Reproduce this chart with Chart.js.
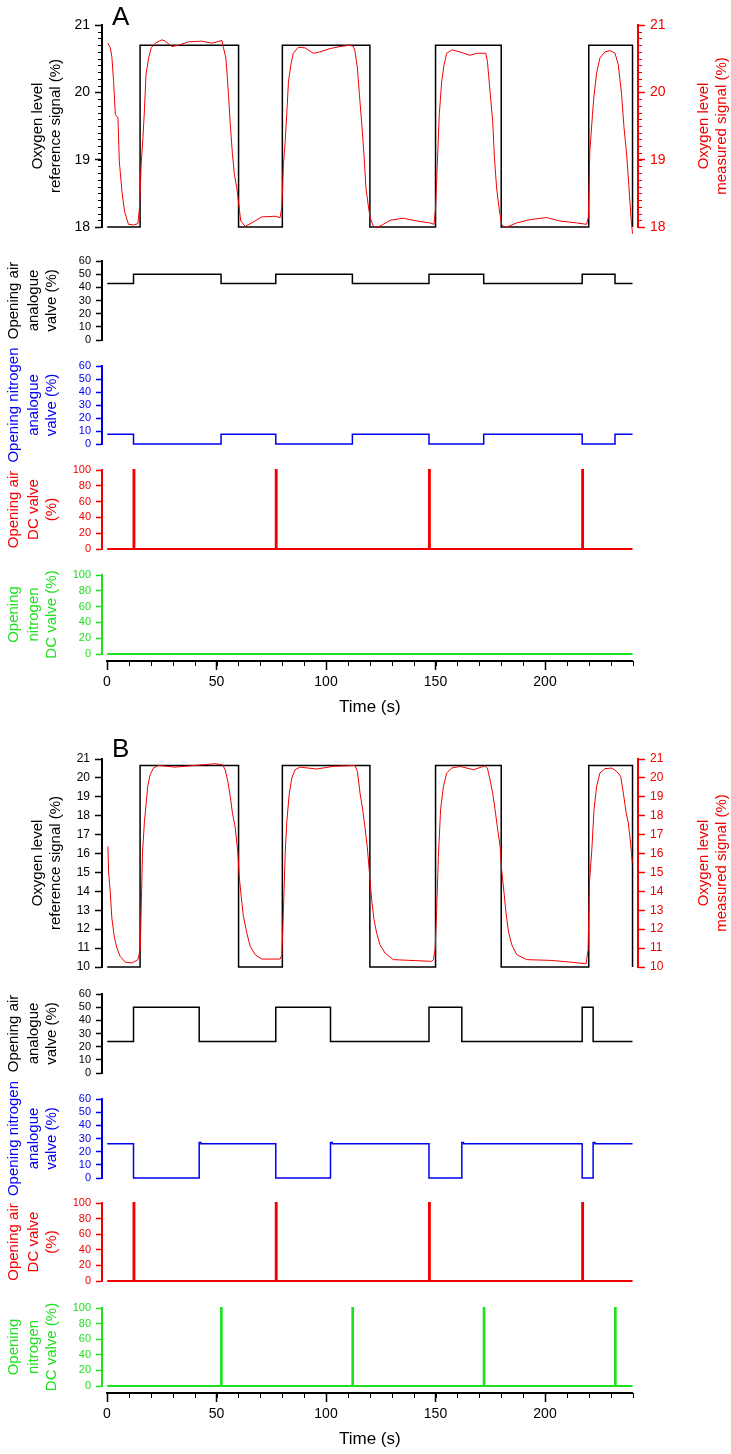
<!DOCTYPE html>
<html>
<head>
<meta charset="utf-8">
<script src="https://cdn.jsdelivr.net/npm/chart.js@4.4.1/dist/chart.umd.min.js"></script>
<style>
  html, body { margin: 0; padding: 0; background: #fff; }
  #page { position: relative; width: 731px; height: 1454px; overflow: hidden; }
  #page canvas { position: absolute; left: 0; }
</style>
</head>
<body>
<div id="page"></div>
<script>
// ---- values, [time (s), value] ----

// panel A
const refA = [[0, 18], [15, 20.7], [60, 18], [80, 20.7], [120, 18], [150, 20.7], [180, 18], [220, 20.7], [240, 18]];
const measuredA = [
  [0.3, 20.73], [1.4, 20.66], [2.1, 20.53], [2.9, 20.16], [3.7, 19.67], [4.9, 19.62], [5.5, 18.98], [6.7, 18.53],
  [7.9, 18.23], [9.7, 18.04], [12, 18.03], [14, 18.05], [14.8, 18.31], [15.5, 18.93], [16.3, 19.32], [17, 19.74],
  [17.7, 20.26], [18.9, 20.51], [20.1, 20.66], [21.9, 20.73], [24.9, 20.78], [26.5, 20.76], [29.5, 20.68], [32.6, 20.7],
  [37.1, 20.75], [43.2, 20.76], [47.8, 20.73], [52.4, 20.77], [53.1, 20.66], [54.2, 20.51], [55.4, 19.97], [56.2, 19.53],
  [57.2, 19.08], [58.1, 18.78], [59.2, 18.58], [60.3, 18.28], [61, 18.09], [63, 18.01], [66, 18.06], [70.6, 18.15],
  [76.7, 18.16], [79, 18.14], [79.8, 18.31], [80.5, 18.93], [81.3, 19.27], [82, 19.67], [82.8, 20.16], [83.9, 20.41],
  [85, 20.58], [87.3, 20.67], [90.4, 20.66], [94.2, 20.58], [97.2, 20.6], [101.8, 20.65], [106.4, 20.68], [110.9, 20.7],
  [112.5, 20.68], [113.2, 20.61], [114.3, 20.36], [115.2, 19.97], [116.3, 19.53], [117.4, 19.03], [118.2, 18.58], [119.3, 18.31],
  [120.1, 18.14], [121.6, 18.01], [123.1, 17.99], [126.1, 18.04], [129.2, 18.1], [135.3, 18.13], [141.4, 18.09], [147.5, 18.06],
  [149.3, 18.04], [150, 18.28], [150.8, 18.93], [151.7, 19.67], [152.8, 20.16], [153.9, 20.41], [155.1, 20.58], [157.4, 20.63],
  [161.2, 20.6], [165.7, 20.55], [168.8, 20.58], [173, 20.58], [173.7, 20.46], [174.9, 20.01], [176.1, 19.57], [176.9, 19.03],
  [177.9, 18.58], [179.1, 18.26], [180.2, 18.04], [181.7, 17.99], [187.1, 18.06], [193.2, 18.11], [200.7, 18.14], [206.8, 18.09],
  [214.5, 18.06], [219, 18.04], [219.8, 18.14], [220.5, 19.13], [221.7, 19.67], [222.3, 19.92], [223.6, 20.29], [225.1, 20.51],
  [227.4, 20.6], [229.7, 20.62], [232, 20.58], [233.5, 20.41], [235, 19.97], [236.1, 19.48], [237.3, 19.08], [238.4, 18.58],
  [239.3, 18.14], [240, 17.9]
];
const airA = [[0, 43], [12, 50], [52, 43], [77, 50], [112, 43], [147, 50], [172, 43], [217, 50], [232, 43], [240, 43]];
const nitrogenA = [[0, 7.5], [12, 0], [52, 7.5], [77, 0], [112, 7.5], [147, 0], [172, 7.5], [217, 0], [232, 7.5], [240, 7.5]];
const airDcA = [[0, 0], [12, 100], [12.4, 0], [77, 100], [77.4, 0], [147, 100], [147.4, 0], [217, 100], [217.4, 0], [240, 0]];
const nitrogenDcA = [[0, 0], [240, 0]];

// panel B
const refB = [[0, 10], [15, 20.65], [60, 10], [80, 20.65], [120, 10], [150, 20.65], [180, 10], [220, 20.65], [240, 10]];
const measuredB = [
  [0.3, 16.38], [0.6, 15.05], [1.4, 13.91], [2.1, 12.59], [3.2, 11.61], [4.4, 11.0], [5.9, 10.56], [8.2, 10.26],
  [11.3, 10.21], [14, 10.39], [15.1, 10.92], [15.5, 13.03], [16.1, 16.03], [17, 17.7], [17.8, 18.67], [18.5, 19.55],
  [19.6, 20.17], [21.1, 20.52], [23.4, 20.66], [31, 20.57], [40.2, 20.66], [49.3, 20.75], [52.7, 20.69], [53.9, 20.43],
  [55.1, 19.81], [56.2, 19.02], [57.2, 18.14], [58.4, 17.44], [59.7, 16.03], [60.3, 14.79], [61.2, 13.73], [62.2, 12.68],
  [63.8, 11.79], [65.3, 11.09], [67.6, 10.65], [70.6, 10.42], [79, 10.42], [79.8, 10.65], [80.5, 13.03], [81.3, 16.03],
  [82, 17.62], [83.1, 19.11], [84.3, 19.99], [85.8, 20.43], [88.1, 20.57], [95.7, 20.47], [103.3, 20.61], [113.2, 20.66],
  [114.3, 20.34], [115.5, 19.2], [116.7, 18.32], [117.7, 17.44], [118.8, 16.38], [119.8, 14.97], [120.8, 13.56], [121.9, 12.5],
  [123.1, 11.79], [124.6, 11.18], [126.9, 10.74], [130.7, 10.39], [138.3, 10.35], [148.2, 10.3], [149, 10.39], [149.8, 10.92],
  [150.5, 13.03], [151.3, 15.85], [152.3, 18.32], [153.6, 19.55], [155.1, 20.26], [157.4, 20.52], [161.2, 20.61], [167.3, 20.43],
  [172.6, 20.64], [173.7, 20.52], [174.9, 19.9], [176.1, 19.2], [177.2, 18.32], [178.2, 17.44], [179.5, 16.38], [180.2, 15.15],
  [181.3, 13.91], [182.2, 12.85], [183.3, 11.88], [184.8, 11.18], [187.1, 10.65], [191.7, 10.39], [202.4, 10.35], [211.5, 10.26],
  [218.8, 10.17], [219.7, 10.92], [220.3, 14.44], [221.4, 16.2], [222.4, 18.32], [223.6, 19.55], [225.1, 20.26], [227.4, 20.49],
  [230.5, 20.52], [232.8, 20.34], [234.6, 20.08], [235.8, 19.2], [237.1, 18.14], [238.1, 17.62], [239.1, 16.56], [239.9, 15.5]
];
const airB = [[0, 24], [12, 50], [42, 24], [77, 50], [102, 24], [147, 50], [162, 24], [217, 50], [222, 24], [240, 24]];
const nitrogenB = [[0, 26], [12, 0], [42, 27], [42.8, 26], [77, 0], [102, 27], [102.8, 26], [147, 0], [162, 27], [162.8, 26],
  [217, 0], [222, 27], [222.8, 26], [240, 26]];
const airDcB = [[0, 0], [12, 100], [12.4, 0], [77, 100], [77.4, 0], [147, 100], [147.4, 0], [217, 100], [217.4, 0], [240, 0]];
const nitrogenDcB = [[0, 0], [52, 100], [52.3, 0], [112, 100], [112.3, 0], [172, 100], [172.3, 0], [232, 100], [232.3, 0], [240, 0]];

// tick labels
const oxygenTicksA = [18, 19, 20, 21];
const oxygenTicksB = [10, 11, 12, 13, 14, 15, 16, 17, 18, 19, 20, 21];
const analogueTicks = [0, 10, 20, 30, 40, 50, 60];
const dcTicks = [0, 20, 40, 60, 80, 100];
const timeTicks = [0, 50, 100, 150, 200];

// ---- layout ----
const W = 731;
const RED = '#f20000', BLUE = '#0000f0', GREEN = '#1ee01e', BLACK = '#000';
const FONT = "'Liberation Sans', Arial, sans-serif";
Chart.defaults.font.family = FONT;

const page = document.getElementById('page');
const toXY = d => d.map(([x, y]) => ({ x, y }));

// per-chart drawing of minor ticks, rotated titles and the panel letter
function decor(spec, canvasTop) {
  return {
    id: 'decor',
    afterDraw(chart) {
      const ctx = chart.ctx;
      const area = chart.chartArea;
      ctx.save();
      (spec.minor || []).forEach(m => {
        const s = chart.scales[m.axis];
        ctx.strokeStyle = m.color;
        ctx.lineWidth = 1;
        ctx.beginPath();
        const n = Math.round((m.to - m.from) / m.step);
        for (let i = 0; i <= n; i++) {
          const p = Math.round(s.getPixelForValue(m.from + i * m.step)) + 0.5;
          if (m.side === 'left') { ctx.moveTo(s.right - m.len, p); ctx.lineTo(s.right, p); }
          else if (m.side === 'right') { ctx.moveTo(s.left, p); ctx.lineTo(s.left + m.len, p); }
          else { ctx.moveTo(p, s.top); ctx.lineTo(p, s.top + m.len); }
        }
        ctx.stroke();
      });
      (spec.titles || []).forEach(t => {
        ctx.fillStyle = t.color;
        ctx.font = t.font;
        ctx.textAlign = 'center';
        ctx.textBaseline = 'middle';
        const cy = (area.top + area.bottom) / 2;
        t.lines.forEach((line, i) => {
          ctx.save();
          ctx.translate(t.xs[i], cy);
          ctx.rotate(-Math.PI / 2);
          ctx.fillText(line, 0, 0);
          ctx.restore();
        });
      });
      if (spec.letter) {
        ctx.fillStyle = BLACK;
        ctx.font = '26px ' + FONT;
        ctx.textAlign = 'left';
        ctx.textBaseline = 'alphabetic';
        ctx.fillText(spec.letter.text, spec.letter.x, spec.letter.y - canvasTop);
      }
      ctx.restore();
    }
  };
}

function yAxis(position, p, color) {
  return {
    position,
    min: p.min,
    max: p.max,
    afterFit: s => { s.width = position === 'left' ? 102 : W - 638; },
    afterBuildTicks: s => { s.ticks = p.ticks.map(v => ({ value: v })); },
    border: { display: true, color, width: 2 },
    grid: { drawOnChartArea: false, color, tickLength: p.tickLen, tickWidth: 1.5 },
    ticks: { color, font: { size: p.tickFont }, padding: 5, autoSkip: false }
  };
}

function makePlot(p) {
  const padTop = p.padTop || 24, padBottom = 24;
  const top = p.top - padTop;
  const h = Math.round(p.bottom - p.top + padTop + padBottom);
  const canvas = document.createElement('canvas');
  canvas.width = W; canvas.height = h;
  canvas.style.top = top + 'px';
  page.appendChild(canvas);

  const titleFont = '15px ' + FONT;
  const scales = {
    x: { type: 'linear', min: -2.4, max: 242.5, display: false },
    y: yAxis('left', p, p.color)
  };
  const titles = [{ lines: p.title, xs: p.titleX, color: p.color, font: titleFont }];
  const minor = [];
  if (p.minorStep) minor.push({ axis: 'y', side: 'left', from: p.min, to: p.max, step: p.minorStep, len: 4, color: p.color });
  if (p.right) {
    scales.y2 = yAxis('right', p, p.right.color);
    titles.push({ lines: p.right.title, xs: p.right.titleX, color: p.right.color, font: titleFont });
    if (p.minorStep) minor.push({ axis: 'y2', side: 'right', from: p.min, to: p.max, step: p.minorStep, len: 4, color: p.right.color });
  }

  new Chart(canvas, {
    type: 'line',
    data: {
      datasets: p.series.map(s => ({
        data: toXY(s.data),
        borderColor: s.color,
        borderWidth: s.width,
        stepped: s.stepped ? 'before' : false,
        pointRadius: 0,
        tension: 0,
        clip: false,
        yAxisID: s.axis || 'y'
      }))
    },
    options: {
      responsive: false,
      animation: false,
      events: [],
      layout: { padding: { top: padTop, bottom: padBottom, left: 0, right: p.right ? 0 : W - 638 } },
      scales,
      plugins: { legend: { display: false }, tooltip: { enabled: false } }
    },
    plugins: [decor({ titles, minor, letter: p.letter }, top)]
  });
}

function makeTimeAxis(axisY) {
  const top = axisY - 21;
  const canvas = document.createElement('canvas');
  canvas.width = W; canvas.height = 90;
  canvas.style.top = top + 'px';
  page.appendChild(canvas);
  new Chart(canvas, {
    type: 'line',
    data: { datasets: [] },
    options: {
      responsive: false,
      animation: false,
      events: [],
      layout: { padding: { top: 0, bottom: 0, left: 107, right: W - 632.6 } },
      scales: {
        x: {
          type: 'linear', min: 0, max: 240, position: 'bottom',
          afterBuildTicks: s => { s.ticks = timeTicks.map(v => ({ value: v })); },
          afterFit: s => { s.height = 69; },
          border: { display: true, color: BLACK, width: 2 },
          grid: { drawOnChartArea: false, color: BLACK, tickLength: 9, tickWidth: 1.5 },
          ticks: { color: BLACK, font: { size: 14 }, padding: 4, maxRotation: 0, autoSkip: false },
          title: { display: true, text: 'Time (s)', color: BLACK, font: { size: 17 }, padding: { top: 0, bottom: 12 } }
        },
        y: { display: false, min: 0, max: 1 }
      },
      plugins: { legend: { display: false }, tooltip: { enabled: false } }
    },
    plugins: [decor({ minor: [{ axis: 'x', side: 'bottom', from: 0, to: 240, step: 10, len: 5, color: BLACK }] }, top)]
  });
}

const small = { tickFont: 11, tickLen: 6 };

const plots = [
  // panel A
  { top: 25.3, bottom: 227.3, padTop: 26, min: 18, max: 21, ticks: oxygenTicksA, minorStep: 0.1,
    tickFont: 14, tickLen: 7, color: BLACK,
    title: ['Oxygen level', 'reference signal (%)'], titleX: [38, 56],
    right: { color: RED, title: ['Oxygen level', 'measured signal (%)'], titleX: [704, 722] },
    letter: { text: 'A', x: 112, y: 25.5 },
    series: [{ data: measuredA, color: RED, width: 1, axis: 'y2' }, { data: refA, color: BLACK, width: 1.5, stepped: true }] },
  { top: 260.7, bottom: 339.3, min: 0, max: 60, ticks: analogueTicks, ...small, color: BLACK,
    title: ['Opening air', 'analogue', 'valve (%)'], titleX: [14, 34, 52],
    series: [{ data: airA, color: BLACK, width: 1.5, stepped: true }] },
  { top: 366, bottom: 444, min: 0, max: 60, ticks: analogueTicks, ...small, color: BLUE,
    title: ['Opening nitrogen', 'analogue', 'valve (%)'], titleX: [14, 34, 52],
    series: [{ data: nitrogenA, color: BLUE, width: 1.5, stepped: true }] },
  { top: 470, bottom: 549, min: 0, max: 100, ticks: dcTicks, ...small, color: RED,
    title: ['Opening air', 'DC valve', '(%)'], titleX: [14, 34, 52],
    series: [{ data: airDcA, color: RED, width: 2, stepped: true }] },
  { top: 575, bottom: 653.7, min: 0, max: 100, ticks: dcTicks, ...small, color: GREEN,
    title: ['Opening', 'nitrogen', 'DC valve (%)'], titleX: [14, 34, 52],
    series: [{ data: nitrogenDcA, color: GREEN, width: 2, stepped: true }] },
  // panel B
  { top: 759.3, bottom: 967.3, padTop: 30, min: 10, max: 21, ticks: oxygenTicksB,
    tickFont: 12, tickLen: 7, color: BLACK,
    title: ['Oxygen level', 'reference signal (%)'], titleX: [38, 56],
    right: { color: RED, title: ['Oxygen level', 'measured signal (%)'], titleX: [704, 722] },
    letter: { text: 'B', x: 112, y: 757 },
    series: [{ data: measuredB, color: RED, width: 1, axis: 'y2' }, { data: refB, color: BLACK, width: 1.5, stepped: true }] },
  { top: 994, bottom: 1073, min: 0, max: 60, ticks: analogueTicks, ...small, color: BLACK,
    title: ['Opening air', 'analogue', 'valve (%)'], titleX: [14, 34, 52],
    series: [{ data: airB, color: BLACK, width: 1.5, stepped: true }] },
  { top: 1098.7, bottom: 1177.3, min: 0, max: 60, ticks: analogueTicks, ...small, color: BLUE,
    title: ['Opening nitrogen', 'analogue', 'valve (%)'], titleX: [14, 34, 52],
    series: [{ data: nitrogenB, color: BLUE, width: 1.5, stepped: true }] },
  { top: 1203.3, bottom: 1281.7, min: 0, max: 100, ticks: dcTicks, ...small, color: RED,
    title: ['Opening air', 'DC valve', '(%)'], titleX: [14, 34, 52],
    series: [{ data: airDcB, color: RED, width: 2, stepped: true }] },
  { top: 1308.3, bottom: 1386.7, min: 0, max: 100, ticks: dcTicks, ...small, color: GREEN,
    title: ['Opening', 'nitrogen', 'DC valve (%)'], titleX: [14, 34, 52],
    series: [{ data: nitrogenDcB, color: GREEN, width: 2, stepped: true }] }
];

plots.forEach(makePlot);
makeTimeAxis(661);
makeTimeAxis(1392.7);
</script>
</body>
</html>
